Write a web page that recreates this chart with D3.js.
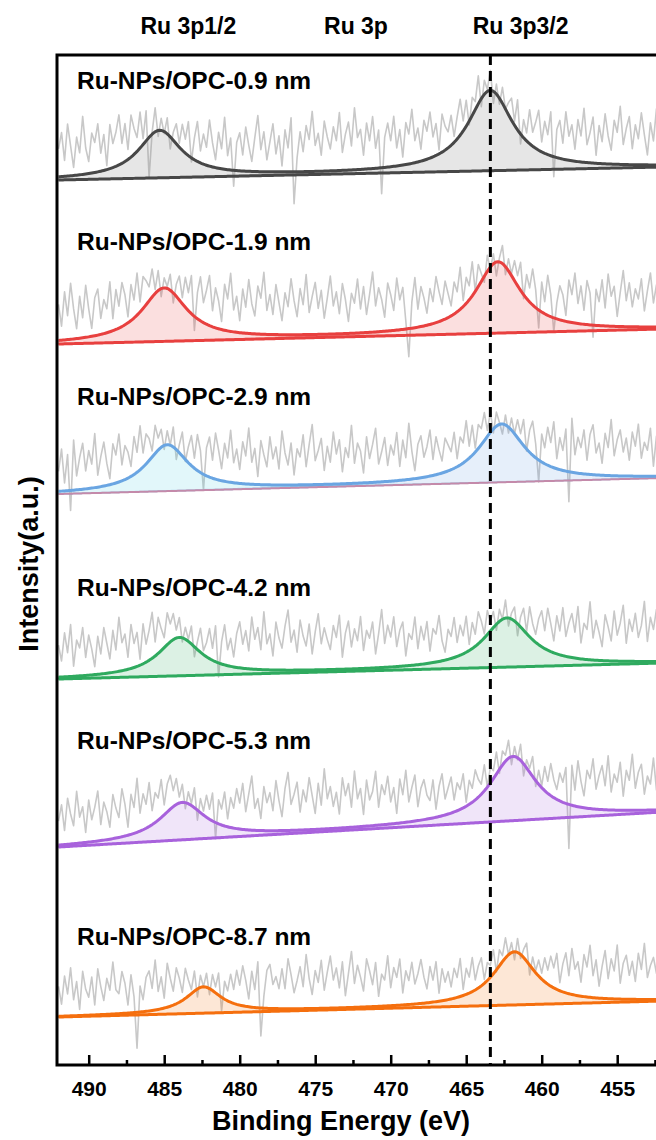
<!DOCTYPE html>
<html>
<head>
<meta charset="utf-8">
<script src="https://cdn.jsdelivr.net/npm/d3@7"></script>
<style>
  body { margin: 0; background: #fff; }
  svg { display: block; }
  text { font-family: "Liberation Sans", Arial, sans-serif; fill: #000; }
</style>
</head>
<body>
<script>
// XPS Ru 3p spectra of Ru-NPs/OPC samples (fitted with two peaks + linear background)
const width = 656, height = 1140;

const samples = ["Ru-NPs/OPC-0.9 nm", "Ru-NPs/OPC-1.9 nm", "Ru-NPs/OPC-2.9 nm",
                 "Ru-NPs/OPC-4.2 nm", "Ru-NPs/OPC-5.3 nm", "Ru-NPs/OPC-8.7 nm"];

// linear background, intensity at 492 eV and at 452 eV
const baseStart = [885, 721, 571, 386, 218, 48];
const baseEnd   = [898, 736, 587, 402, 253, 64];

// fitted peaks [Ru 3p1/2, Ru 3p3/2]
const peakCenters = [[485.3, 463.4], [485.0, 462.9], [484.8, 462.65],
                     [484.0, 462.3], [483.8, 461.9], [482.4, 461.8]];
const peakHeights = [[47, 80], [53, 71], [46, 58], [38, 49], [37, 64], [26, 53]];
const peakWidths  = [[3.4, 3.6], [3.6, 3.6], [3.4, 3.7], [3.4, 3.7], [3.6, 3.7], [2.8, 3.4]];

// raw data minus fit envelope, every 0.2 eV from 492 eV down to 452 eV
const residuals = [
  [28,44,16,52,30,8,38,22,58,26, 12,40,30,48,18,36,4,44,24,34, 50,20,38,10,42,26,14,36,6,30,
   -40,2,24,-6,12,-2,16,-12,8,20, 4,26,14,34,-4,22,40,12,30,18, 46,24,8,36,20,52,14,32,-16,28,
   38,16,44,26,10,34,56,22,40,12, 30,48,18,36,6,42,24,54,-32,14, 40,20,46,32,60,26,38,16,50,34,
   22,44,30,58,18,36,48,24,62,32, 40,14,46,28,52,20,38,-26,30,44, 26,50,18,36,8,42,30,54,22,34,
   12,40,28,46,20,32,4,38,24,16, 30,6,22,36,10,26,-4,18,8,28, -8,14,2,20,-12,10,-6,16,0,12,
   22,4,30,-10,18,8,34,14,26,40, 10,32,20,44,-20,28,38,16,48,24, 36,12,42,26,54,18,30,46,8,38,
   22,50,28,14,44,32,58,20,36,48, 16,40,26,52,30,10,42,24,56,34, 28],
  [36,14,48,24,56,30,10,42,20,52, 28,8,38,46,16,34,24,50,12,40, 22,44,30,6,36,18,42,10,32,24,
   14,28,4,20,-8,10,2,16,-10,12, 24,6,30,18,38,-14,26,44,20,34, 50,16,40,28,8,46,32,58,22,36,
   12,44,26,54,30,18,48,36,62,24, 40,20,50,32,14,42,28,56,34,18, 46,30,60,22,38,52,26,44,16,36,
   58,28,42,20,50,34,12,40,30,54, 24,46,18,38,60,26,44,32,14,48, 36,20,52,30,42,8,-28,26,50,18,
   40,28,12,36,22,46,30,16,38,24, 10,32,20,42,6,26,14,34,0,22, 8,-6,16,-2,10,-14,4,18,-8,12,
   2,20,10,28,-4,24,14,36,18,-18, 30,12,40,22,-14,16,34,26,6,42, 28,50,20,38,14,44,32,-12,36,24,
   46,18,52,30,40,10,34,56,26,44, 20,38,28,48,16,36,54,24,42,30, 34],
  [20,42,8,36,-20,50,14,32,46,18, 38,24,54,12,30,44,22,6,40,28, 48,16,34,26,10,38,20,44,14,30,
   22,6,28,12,18,-4,14,0,20,-10, 8,24,-2,16,30,10,36,22,-16,28, 40,18,46,30,12,38,24,52,20,34,
   14,42,28,56,22,36,8,44,30,18, 48,26,38,16,54,32,20,42,10,36, 28,50,18,40,60,24,34,46,14,38,
   22,52,30,44,12,36,26,58,20,40, 32,10,46,24,38,54,18,30,44,16, 36,26,48,14,40,22,56,28,8,34,
   42,20,30,46,16,38,24,12,34,26, 18,36,8,28,20,40,12,30,4,24, 16,28,6,20,-4,14,2,-10,10,-6,
   12,0,18,8,26,-2,22,34,14,-22, 28,16,38,24,46,10,32,20,42,-30, 54,18,36,26,44,14,40,50,22,32,
   12,42,28,56,20,36,46,24,38,16, 44,30,52,18,34,26,48,10,40,28, 36],
  [32,16,44,24,52,10,36,28,48,18, 40,26,8,38,20,46,30,14,42,22, 54,28,36,12,44,24,34,6,40,18,
   30,46,14,36,22,10,32,18,26,8, 20,-4,12,2,18,-10,8,24,4,14, 30,12,36,-14,22,40,16,28,10,34,
   46,24,38,18,52,30,42,20,58,26, 36,14,48,32,22,44,60,28,40,18, 50,34,24,46,16,38,56,26,42,30,
   20,44,32,54,12,36,48,22,40,28, 52,18,38,30,46,14,34,58,24,42, 30,50,20,36,44,10,32,26,48,16,
   38,24,42,12,34,28,46,20,8,30, 22,40,14,30,18,36,6,26,12,32, 20,4,24,10,16,-6,12,0,18,-8,
   6,14,-12,10,22,2,30,16,8,26, 36,18,42,28,12,38,24,48,20,34, 44,26,52,16,36,30,58,22,40,28,
   14,46,34,20,50,26,38,56,18,42, 30,48,24,36,60,20,44,32,52,26, 38],
  [24,40,14,46,30,18,52,26,36,10, 42,22,34,50,16,38,28,12,44,30, 20,48,32,8,40,26,54,18,36,24,
   44,14,30,22,38,10,28,34,16,26, 6,18,-6,12,2,20,-10,14,4,22, 10,28,-16,24,16,34,8,30,20,40,
   26,46,18,36,54,22,32,12,44,28, 38,20,50,30,14,42,58,26,36,48, 18,40,28,52,34,16,46,24,60,30,
   42,22,36,14,50,32,44,20,56,28, 38,12,46,26,34,54,18,40,30,48, 22,36,10,44,28,52,20,34,46,14,
   32,40,24,18,38,8,30,42,16,26, 36,12,28,20,34,4,24,14,30,18, 10,26,0,16,8,22,-4,14,6,18,
   -8,10,-2,16,-12,8,4,20,-6,14, 2,24,12,32,18,10,28,20,36,-44, 40,16,46,26,12,38,30,50,20,34,
   44,24,54,18,36,28,48,14,40,30, 56,22,38,46,16,34,26,52,20,42, 32],
  [30,12,40,22,48,16,34,6,44,26, 18,38,10,46,28,14,36,24,52,24, 20,42,30,8,38,16,-36,26,12,34,
   40,22,50,18,32,10,44,28,14,36, 24,8,30,16,4,20,-8,12,0,14, -6,16,6,22,-14,18,10,28,14,34,
   20,40,26,8,36,18,46,-28,12,38, 44,24,32,20,40,20,50,34,16,28, 42,22,54,30,14,38,26,48,18,36,
   52,28,40,20,46,12,34,56,24,42, 30,16,48,36,22,44,10,32,26,50, 18,38,28,46,12,34,24,42,20,30,
   44,26,14,36,22,40,8,32,18,28, 12,30,20,38,6,26,16,34,10,22, 28,4,18,12,24,-2,16,6,20,0,
   10,-8,14,-4,8,18,-10,12,2,16, 6,24,14,30,20,36,8,28,40,18, 46,26,34,14,42,30,52,22,38,12,
   32,48,20,40,28,54,16,36,44,24, 38,18,46,30,56,22,34,42,26,50, 28]
];

// annotations above the frame
const peakNames = ["Ru 3p1/2", "Ru 3p", "Ru 3p3/2"];
const peakNamePos = [483.4, 472.3, 461.4];
const refLine = 463.4;

const majorTicks = [490, 485, 480, 475, 470, 465, 460, 455];
const minorTicks = [487.5, 482.5, 477.5, 472.5, 467.5, 462.5, 457.5, 452.5];

// styles
const lineColors = ["#474747", "#e8403f", "#6aa5e2", "#2faa5f", "#a862dc", "#f56f0e"];
const fillColors = [["#8c8c8c", "#8c8c8c"], ["#e8403f", "#e8403f"], ["#52d2e2", "#6aa2e0"],
                    ["#2faa5f", "#2faa5f"], ["#a862dc", "#a862dc"], ["#f56f0e", "#f56f0e"]];
const baseColors = ["#474747", "#e8403f", "#c48aaa", "#2faa5f", "#a862dc", "#f56f0e"];
const labelY = [89, 250, 405, 596, 749, 945];

const svg = d3.select("body").append("svg")
  .attr("width", width)
  .attr("height", height);

const x = d3.scaleLinear().domain([492.1, 450]).range([57, 57 + 42.1 * 15.1]);
const y = d3.scaleLinear().domain([0, 1010]).range([1065, 55]);

svg.append("clipPath").attr("id", "plot")
  .append("rect")
  .attr("x", x(492.1)).attr("y", y(1010))
  .attr("width", x(450) - x(492.1)).attr("height", y(0) - y(1010));

const plot = svg.append("g").attr("clip-path", "url(#plot)");

const line = d3.line().x(d => x(d[0])).y(d => y(d[1]));
const area = d3.area().x(d => x(d[0])).y0(d => y(d[1])).y1(d => y(d[2]));

const fine = d3.range(492, 451.95, -0.1);

samples.forEach((name, s) => {
  const base = E => baseStart[s] + (baseEnd[s] - baseStart[s]) * (492 - E) / 40;
  const comp = (E, k) => peakHeights[s][k] /
    (1 + Math.pow((E - peakCenters[s][k]) / (peakWidths[s][k] / 2), 2));
  const env = E => base(E) + comp(E, 0) + comp(E, 1);

  // raw spectrum
  const raw = residuals[s].map((r, i) => {
    const E = 492 - 0.2 * i;
    return [E, env(E) + r];
  });
  plot.append("path").datum(raw)
    .attr("d", line)
    .attr("fill", "none")
    .attr("stroke", "#c8c8c8")
    .attr("stroke-width", 1.6)
    .attr("stroke-linejoin", "round");

  // fitted components
  [0, 1].forEach(k => {
    const pts = fine.map(E => [E, base(E), base(E) + comp(E, k)]);
    plot.append("path").datum(pts)
      .attr("d", area)
      .attr("fill", fillColors[s][k])
      .attr("fill-opacity", s === 0 ? 0.22 : 0.17)
      .attr("stroke", fillColors[s][k])
      .attr("stroke-opacity", 0.35)
      .attr("stroke-width", 1.5);
  });

  // background
  plot.append("path").datum(fine.map(E => [E, base(E)]))
    .attr("d", line)
    .attr("fill", "none")
    .attr("stroke", baseColors[s])
    .attr("stroke-width", s === 2 ? 2 : 3);

  // envelope
  plot.append("path").datum(fine.map(E => [E, env(E)]))
    .attr("d", line)
    .attr("fill", "none")
    .attr("stroke", lineColors[s])
    .attr("stroke-width", 3)
    .attr("stroke-linejoin", "round");

  svg.append("text")
    .attr("x", 77)
    .attr("y", labelY[s])
    .attr("font-size", 24.5)
    .attr("font-weight", "bold")
    .text(name);
});

// reference dashed line
svg.append("line")
  .attr("x1", x(refLine)).attr("x2", x(refLine))
  .attr("y1", y(1010)).attr("y2", y(0))
  .attr("stroke", "#000")
  .attr("stroke-width", 3)
  .attr("stroke-dasharray", "10,6");

// frame
svg.append("rect")
  .attr("x", x(492.1)).attr("y", y(1010))
  .attr("width", x(450) - x(492.1)).attr("height", y(0) - y(1010))
  .attr("fill", "none")
  .attr("stroke", "#000")
  .attr("stroke-width", 3);

// x axis
const xAxis = svg.append("g")
  .attr("transform", `translate(0,${y(0)})`)
  .call(d3.axisBottom(x).tickValues(majorTicks).tickSizeInner(-10).tickSizeOuter(0)
    .tickPadding(16).tickFormat(d3.format("d")));
xAxis.select(".domain").remove();
xAxis.selectAll(".tick line").attr("stroke", "#000").attr("stroke-width", 2.5);
xAxis.selectAll("text")
  .attr("font-size", 21)
  .attr("font-weight", "bold")
  .attr("font-family", "Liberation Sans, Arial, sans-serif")
  .attr("fill", "#000");

const xMinor = svg.append("g")
  .attr("transform", `translate(0,${y(0)})`)
  .call(d3.axisBottom(x).tickValues(minorTicks).tickSizeInner(-5).tickSizeOuter(0)
    .tickFormat(""));
xMinor.select(".domain").remove();
xMinor.selectAll(".tick line").attr("stroke", "#000").attr("stroke-width", 2.5);

svg.append("text")
  .attr("x", 341)
  .attr("y", 1130)
  .attr("text-anchor", "middle")
  .attr("font-size", 27)
  .attr("font-weight", "bold")
  .text("Binding Energy (eV)");

svg.append("text")
  .attr("transform", `translate(38,564) rotate(-90)`)
  .attr("text-anchor", "middle")
  .attr("font-size", 27)
  .attr("font-weight", "bold")
  .text("Intensity(a.u.)");

// peak annotations
peakNames.forEach((t, i) => {
  svg.append("text")
    .attr("x", x(peakNamePos[i]))
    .attr("y", 34)
    .attr("text-anchor", "middle")
    .attr("font-size", 23)
    .attr("font-weight", "bold")
    .text(t);
});
</script>
</body>
</html>
